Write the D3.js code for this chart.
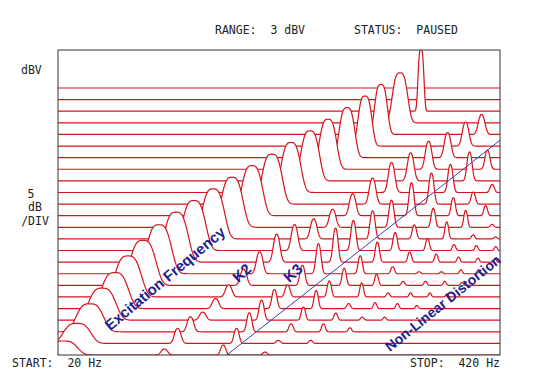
<!DOCTYPE html>
<html>
<head>
<meta charset="utf-8">
<script src="https://cdn.jsdelivr.net/npm/d3@7"></script>
<style>
  body { margin: 0; background: #fff; }
  text { font-family: "DejaVu Sans Mono", monospace; }
</style>
</head>
<body>
<svg id="chart" width="545" height="385"></svg>
<script>
// Waterfall of a sine sweep: trace 0 is the front (bottom) spectrum, trace 23 the back (top).
// Each spectrum has the excitation tone plus its harmonics K2..K9 (levels in dB above floor).
const traceCount = 24;

const excFreq = [20.8, 22.8, 24.9, 27.1, 29.6, 32.4, 35.9, 40.1, 45.1, 51.0, 58.2, 66.3,
  76.1, 87.3, 99.5, 113.5, 128.4, 146.4, 165.7, 185.0, 210.9, 243.7, null, null];
const excLevel = [7, 10, 14, 16, 18, 20.5, 22.5, 24.5, 25, 25, 25, 25,
  25, 25, 25, 25, 25, 25, 25, 25, 25, 31, 0, 0];
// tone bandwidth, in natural-log frequency units
const excWidth = [0.11, 0.11, 0.11, 0.11, 0.108, 0.106, 0.104, 0.1, 0.097, 0.094, 0.091, 0.088,
  0.085, 0.082, 0.079, 0.075, 0.07, 0.063, 0.056, 0.052, 0.062, 0.024, 0, 0];

const k2Level = [3, 7.5, 7.5, 4, 5, 6, 8, 11, 14, 13, 10, 9, 11, 13, 15, 14, 14, 12.5, 12, 10, 0, 0, 0, 0];
const k3Level = [5, 7.5, 9.5, 10, 9.5, 6, 10, 15, 17, 15, 14, 13.5, 16.5, 15.5, 14, 14.5, 9.5, 0, 0, 0, 0, 0, 0, 0];
const k4Level = [1.5, 1.5, 4, 6.5, 9, 8, 8.5, 9, 10, 9, 7, 9.5, 9, 6, 4, 0, 0, 0, 0, 0, 0, 0, 0, 0];
const k5Level = [0, 1.5, 4, 3.5, 2.5, 7, 5.5, 3.5, 5, 6, 8.5, 8.5, 5, 0, 0, 0, 0, 0, 0, 0, 0, 0, 0, 0];
const k6Level = [0, 0, 2, 1.5, 3, 2, 2, 1, 4, 3, 2, 1.5, 0, 0, 0, 0, 0, 0, 0, 0, 0, 0, 0, 0];
const k7Level = [0, 0, 0, 1.5, 2.5, 2, 2, 1, 2.5, 2.5, 1, 0, 0, 0, 0, 0, 0, 0, 0, 0, 0, 0, 0, 0];
const k8Level = [0, 0, 0, 0, 1.5, 2, 2, 2, 2, 2, 0, 0, 0, 0, 0, 0, 0, 0, 0, 0, 0, 0, 0, 0];
const k9Level = [0, 0, 0, 0, 0, 1.5, 1.5, 1.5, 1.5, 0, 0, 0, 0, 0, 0, 0, 0, 0, 0, 0, 0, 0, 0, 0];
const harmonicLevels = [k2Level, k3Level, k4Level, k5Level, k6Level, k7Level, k8Level, k9Level];
const harmonicWidth = 0.045;

const freqRange = [20, 420];

const headerText = ["RANGE:  3 dBV", "STATUS:  PAUSED"];
const footerText = ["START:  20 Hz", "STOP:  420 Hz"];
const unitText = ["dBV", "5", "dB", "/DIV"];

// annotation anchors, in frequency (Hz) and trace units
const distortionLine = [{ f: 64, t: 0 }, { f: 420, t: 18.5 }];
const annotations = [
  { text: "Excitation Frequency", f: 41.8, t: 6.6, angle: -40, size: 15 },
  { text: "K2", f: 71, t: 7.06, angle: -42, size: 15 },
  { text: "K3", f: 100.9, t: 7.06, angle: -42, size: 15 },
  { text: "Non-Linear Distortion", f: 283.5, t: 4.48, angle: -39, size: 14 }
];

const svg = d3.select("#chart");
const plot = { left: 58, right: 500, top: 50, bottom: 355 };

const x = d3.scaleLog().domain(freqRange).range([plot.left, plot.right]);
const base = d3.scaleLinear().domain([0, traceCount - 1]).range([plot.bottom, 88]);
const amp = d3.scaleLinear().domain([0, 25]).range([0, 50]);

// peak shape on a log-frequency axis, flat topped for the tone
function shape(u, p) {
  return Math.exp(-Math.pow(Math.abs(u), p));
}

function levelAt(j, f) {
  const f0 = excFreq[j];
  if (!f0) return 0;
  let v = excLevel[j] * shape(Math.log(f / f0) / excWidth[j], 3.2);
  harmonicLevels.forEach((lv, i) => {
    const L = lv[j];
    const k = i + 2;
    const w = harmonicWidth * Math.pow(k, -0.6);
    if (L > 0) v = Math.max(v, L * shape(Math.log(f / (k * f0)) / w, 2.4));
  });
  return v;
}

const xs = d3.range(plot.left, plot.right + 0.01, 0.5);

svg.append("clipPath").attr("id", "plotClip")
  .append("rect")
  .attr("x", plot.left).attr("y", plot.top)
  .attr("width", plot.right - plot.left).attr("height", plot.bottom - plot.top);

const traces = svg.append("g").attr("clip-path", "url(#plotClip)");

const area = d3.area().x(d => d[0]).y0(plot.bottom).y1(d => d[1]);
const line = d3.line().x(d => d[0]).y(d => d[1]);

// back to front so that each spectrum hides what lies behind it
for (let j = traceCount - 1; j >= 0; j--) {
  const pts = xs.map(px => [px, base(j) - amp(levelAt(j, x.invert(px)))]);
  traces.append("path").attr("d", area(pts)).attr("fill", "#fff");
  traces.append("path").attr("d", line(pts))
    .attr("fill", "none")
    .attr("stroke", "#d7141e")
    .attr("stroke-width", 1.2);
}

// frame
svg.append("rect")
  .attr("x", plot.left).attr("y", plot.top)
  .attr("width", plot.right - plot.left).attr("height", plot.bottom - plot.top)
  .attr("fill", "none").attr("stroke", "#333").attr("stroke-width", 1);

// distortion marker
svg.append("line")
  .attr("x1", x(distortionLine[0].f)).attr("y1", base(distortionLine[0].t))
  .attr("x2", x(distortionLine[1].f)).attr("y2", base(distortionLine[1].t))
  .attr("stroke", "#3c3cb4").attr("stroke-width", 1);

svg.selectAll(".note")
  .data(annotations)
  .join("text")
  .attr("class", "note")
  .attr("transform", d => `translate(${x(d.f)},${base(d.t)}) rotate(${d.angle})`)
  .attr("text-anchor", "middle")
  .attr("dy", "0.35em")
  .style("font-family", "'Liberation Sans', Arial, sans-serif")
  .style("font-weight", "bold")
  .style("font-size", d => d.size + "px")
  .attr("fill", "#1e1e8c")
  .text(d => d.text);

// instrument texts
const small = (s, px, py, anchor = "start") =>
  svg.append("text")
    .attr("x", px).attr("y", py)
    .attr("text-anchor", anchor)
    .style("font-size", "11.5px")
    .style("white-space", "pre")
    .attr("fill", "#222")
    .text(s);

small(headerText[0], 215, 34);
small(headerText[1], 354, 34);
small(footerText[0], 12, 367);
small(footerText[1], 500, 367, "end");
small(unitText[0], 21, 74);
small(unitText[1], 31, 198, "middle");
small(unitText[2], 35, 211, "middle");
small(unitText[3], 35, 225, "middle");
</script>
</body>
</html>
